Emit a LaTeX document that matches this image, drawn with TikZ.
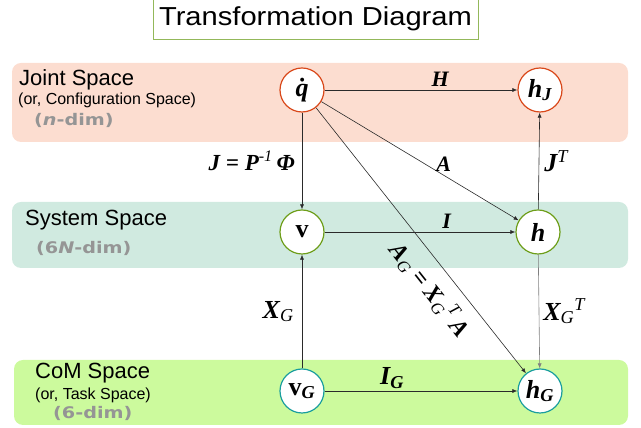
\documentclass[tikz,border=0pt]{standalone}
\usepackage{fontspec}
\setmainfont{Liberation Serif}
\setsansfont{Liberation Sans}
\newfontfamily\dimfont[FakeStretch=1.2]{DejaVu Sans}
\newfontfamily\titlefont[FakeStretch=1.12]{Liberation Sans}
\usetikzlibrary{arrows.meta}
\definecolor{jointpink}{HTML}{FCDDD0}
\definecolor{systemmint}{HTML}{D0EAE0}
\definecolor{comgreen}{HTML}{CCFA9D}
\definecolor{jointring}{HTML}{D9481A}
\definecolor{systemring}{HTML}{6E9E1A}
\definecolor{comring}{HTML}{1A9E9E}
\definecolor{titleframe}{HTML}{93B85A}
\definecolor{dimgray}{HTML}{959595}
\definecolor{ink}{HTML}{2A2A2A}

\begin{document}
\begin{tikzpicture}[
  x=1pt, y=1pt,
  >=Latex,
  band/.style={rounded corners=9pt, draw=none},
  spacename/.style={anchor=west, inner sep=0pt, font=\sffamily\fontsize{22}{22}\selectfont},
  spacenote/.style={anchor=west, inner sep=0pt, font=\sffamily\fontsize{16}{16}\selectfont},
  spacedim/.style={anchor=west, inner sep=0pt, text=dimgray,
    font=\dimfont\bfseries\fontsize{16}{16}\selectfont},
  vec/.style={circle, fill=white, line width=1.2pt, minimum size=44pt, inner sep=0pt,
    font=\bfseries\itshape\fontsize{26}{26}\selectfont},
  arrow/.style={-{Latex[length=5pt,width=4pt]}, line width=0.6pt, draw=ink},
  map/.style={font=\bfseries\itshape\fontsize{22}{22}\selectfont},
  bigmap/.style={font=\bfseries\itshape\fontsize{26}{26}\selectfont}
]
\useasboundingbox (0,0) rectangle (641,428);

% title
\node[draw=titleframe, line width=1pt, fill=white, minimum width=325pt, minimum height=42pt,
  font=\titlefont\fontsize{26}{26}\selectfont] (title) at (315.5,409) {Transformation Diagram};

% spaces
\fill[band, jointpink] (12,286) rectangle (628,365);
\fill[band, systemmint] (12,160) rectangle (628,226);
\fill[band, comgreen] (14,3) rectangle (628,68);

\node[spacename] (jname) at (19,348) {Joint Space};
\node[spacenote] (jnote) at (18,328) {(or, Configuration Space)};
\node[spacedim] (jdim) at (34,308) {({\itshape n}-dim)};

\node[spacename] (sname) at (25,208) {System Space};
\node[spacedim] (sdim) at (36,180) {(6{\itshape N}-dim)};

\node[spacename] (cname) at (35,55) {CoM Space};
\node[spacenote] (cnote) at (35,33) {(or, Task Space)};
\node[spacedim] (cdim) at (53,15) {(6-dim)};

% vectors
\node[vec, draw=jointring] (qdot) at (302,338) {\.{q}};
\node[vec, draw=jointring] (hJ) at (540,338) {h\textsubscript{J}};
\node[vec, draw=systemring] (v) at (302,196) {\upshape v};
\node[vec, draw=systemring] (h) at (538,196) {h};
\node[vec, draw=comring] (vG) at (302,37) {\upshape v\textsubscript{\itshape G}};
\node[vec, draw=comring] (hG) at (540,37) {h\textsubscript{G}};

% maps
\draw[arrow] (qdot) -- node[map, above, pos=0.6] {H} (hJ);
\draw[arrow] (qdot) -- node[map, above, pos=0.62] {A} (h);
\draw[arrow] (qdot) -- node[map, left, inner sep=7pt, font=\bfseries\itshape\fontsize{23}{23}\selectfont]
  {J = P\textsuperscript{\mdseries -1}\,Φ} (v);
\draw[arrow] (qdot) -- node[sloped, below, pos=0.63, inner sep=11pt,
  font=\bfseries\itshape\fontsize{24}{24}\selectfont]
  {A\textsubscript{\mdseries G} = X\textsubscript{\mdseries G}\textsuperscript{\mdseries T}\,A} (hG);
\draw[arrow] (v) -- node[map, above, pos=0.64] {I} (h);
\draw[arrow] (h) -- node[bigmap, right, inner sep=5pt] {J\textsuperscript{\mdseries T}} (hJ);
\draw[arrow, draw=gray] (h) -- node[bigmap, right, inner sep=4pt] {X\textsubscript{\mdseries G}\textsuperscript{\mdseries T}} (hG);
\draw[arrow] (vG) -- node[bigmap, left, inner sep=8pt] {X\textsubscript{\mdseries G}} (v);
\draw[arrow] (vG) -- node[bigmap, above, pos=0.35, inner sep=2pt] {I\textsubscript{G}} (hG);

\end{tikzpicture}
\end{document}
